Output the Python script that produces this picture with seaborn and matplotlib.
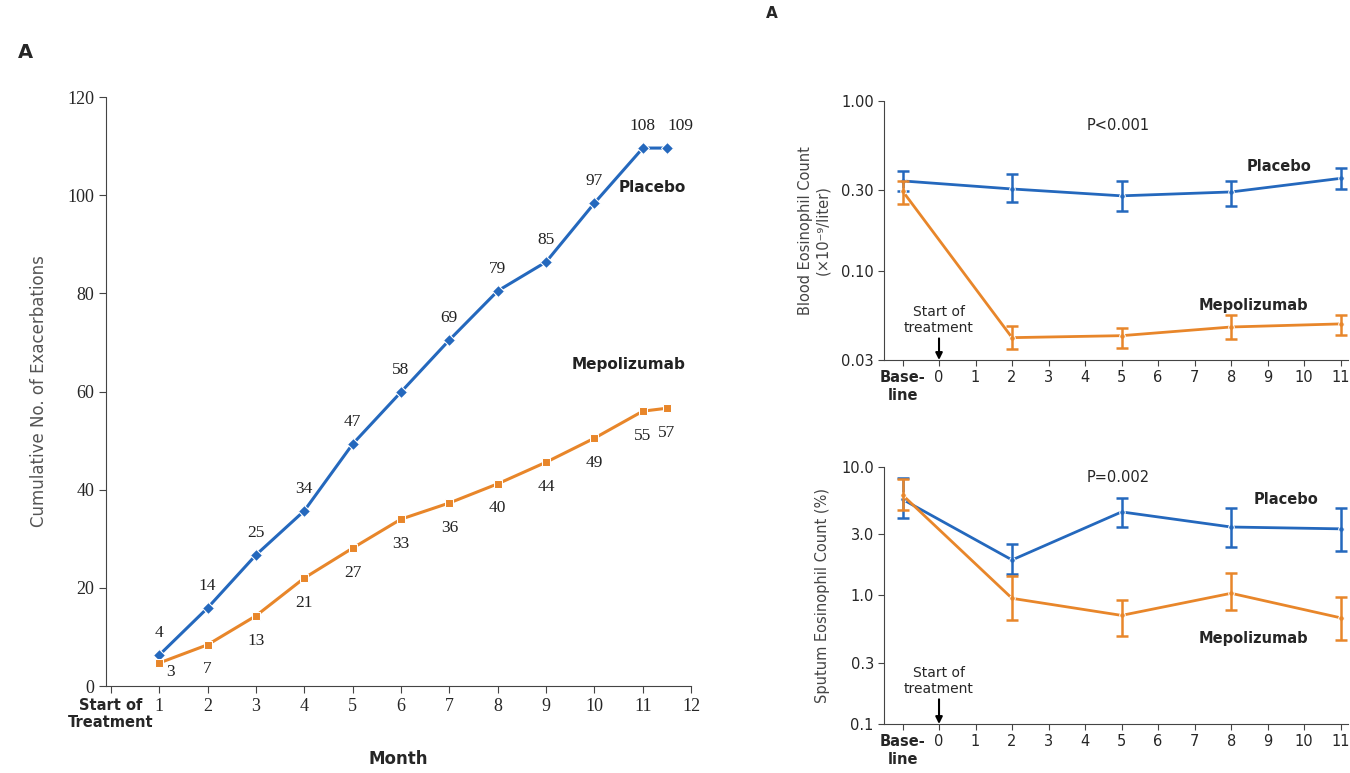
import pandas as pd
import matplotlib.pyplot as plt
import seaborn as sns

# -----------------------------
# Data
# -----------------------------
months = [1, 2, 3, 4, 5, 6, 7, 8, 9, 10, 11, 11.5]
placebo_counts = [4, 14, 25, 34, 47, 58, 69, 79, 85, 97, 108, 109]
placebo_pos = [6.3, 15.9, 26.7, 35.7, 49.3, 59.9, 70.5, 80.5, 86.4, 98.4, 109.6, 109.6]
mepo_counts = [3, 7, 13, 21, 27, 33, 36, 40, 44, 49, 55, 57]
mepo_pos = [4.7, 8.4, 14.3, 22.0, 28.1, 34.0, 37.3, 41.2, 45.6, 50.5, 56.0, 56.6]

visits = [-1, 2, 5, 8, 11]

blood_placebo = [0.339, 0.304, 0.277, 0.292, 0.351]
blood_placebo_hi = [0.388, 0.372, 0.339, 0.339, 0.404]
blood_placebo_lo = [0.296, 0.255, 0.225, 0.242, 0.304]
blood_mepo = [0.296, 0.0406, 0.0417, 0.0469, 0.0489]
blood_mepo_hi = [0.339, 0.0475, 0.0462, 0.0552, 0.0552]
blood_mepo_lo = [0.248, 0.0348, 0.0354, 0.0399, 0.0418]

sputum_placebo = [5.6, 1.89, 4.47, 3.41, 3.30]
sputum_placebo_hi = [8.2, 2.52, 5.74, 4.80, 4.80]
sputum_placebo_lo = [4.01, 1.47, 3.41, 2.38, 2.22]
sputum_mepo = [6.05, 0.95, 0.70, 1.04, 0.67]
sputum_mepo_hi = [8.07, 1.42, 0.92, 1.50, 0.97]
sputum_mepo_lo = [4.63, 0.644, 0.484, 0.771, 0.451]

right_ticks = list(range(-1, 12))
right_ticklabels = ["Base-\nline"] + [str(i) for i in range(0, 12)]

BLUE = "#2468bd"
ORANGE = "#e8862a"

sns.set_style("ticks")
plt.rcParams["font.family"] = ["DejaVu Sans"]

fig = plt.figure(figsize=(13.5, 7.73), dpi=100)

# -----------------------------
# Left panel: cumulative exacerbations
# -----------------------------
ax = fig.add_axes([0.0785, 0.1125, 0.4335, 0.762])

df = pd.DataFrame({
    "Month": months * 2,
    "Value": placebo_pos + mepo_pos,
    "Group": ["Placebo"] * len(months) + ["Mepolizumab"] * len(months),
})

sns.lineplot(
    data=df, x="Month", y="Value", hue="Group", style="Group",
    palette={"Placebo": BLUE, "Mepolizumab": ORANGE},
    markers={"Placebo": "D", "Mepolizumab": "s"}, dashes=False,
    markersize=6, linewidth=2.2, legend=False, ax=ax,
)

for i, (m, y, c) in enumerate(zip(months, placebo_pos, placebo_counts)):
    dx, dy = 0, 10
    if i == len(months) - 1:
        dx = 10
    ax.annotate(str(c), (m, y), xytext=(dx, dy), textcoords="offset points",
                ha="center", va="bottom", fontsize=12.5,
                family="Liberation Serif", color="#222222")

for i, (m, y, c) in enumerate(zip(months, mepo_pos, mepo_counts)):
    dx, dy = 0, -12
    if i == 0:
        dx, dy = 8, -1
    ax.annotate(str(c), (m, y), xytext=(dx, dy), textcoords="offset points",
                ha="center", va="top", fontsize=12.5,
                family="Liberation Serif", color="#222222")

ax.text(11.2, 101.5, "Placebo", fontsize=11, fontweight="bold",
        ha="center", va="center", color="#222222")
ax.text(10.7, 65.5, "Mepolizumab", fontsize=11, fontweight="bold",
        ha="center", va="center", color="#222222")

ax.set_xlim(-0.1, 12)
ax.set_ylim(0, 120)
ax.set_xticks(range(0, 13))
ax.set_xticklabels(["Start of\nTreatment"] + [str(i) for i in range(1, 13)])
ax.set_yticks(range(0, 121, 20))
for lab in ax.get_xticklabels() + ax.get_yticklabels():
    lab.set_family("Liberation Serif")
    lab.set_fontsize(13)
ax.get_xticklabels()[0].set_family("DejaVu Sans")
ax.get_xticklabels()[0].set_fontsize(10.5)
ax.get_xticklabels()[0].set_fontweight("bold")
ax.set_xlabel("Month", fontsize=12, fontweight="bold", labelpad=14)
ax.set_ylabel("Cumulative No. of Exacerbations", fontsize=12,
              color="#555555", labelpad=14)
sns.despine(ax=ax)
for sp in ["left", "bottom"]:
    ax.spines[sp].set_linestyle((0, (2, 1)))
    ax.spines[sp].set_color("#444444")
ax.tick_params(length=5, color="#444444")

fig.text(0.013, 0.925, "A", fontsize=14, fontweight="bold")
fig.text(0.567, 0.977, "A", fontsize=11, fontweight="bold")


# -----------------------------
# Right panels
# -----------------------------
def draw_panel(axr, pl, pl_lo, pl_hi, me, me_lo, me_hi):
    for vals, lo, hi, col in [(pl, pl_lo, pl_hi, BLUE), (me, me_lo, me_hi, ORANGE)]:
        sns.lineplot(x=visits, y=vals, color=col, marker="o", markersize=4,
                     linewidth=2, ax=axr)
        yerr = [[v - l for v, l in zip(vals, lo)], [h - v for v, h in zip(vals, hi)]]
        axr.errorbar(visits, vals, yerr=yerr, fmt="none", ecolor=col,
                     elinewidth=1.8, capsize=4, capthick=1.8)
    axr.set_yscale("log")
    axr.set_xlim(-1.5, 11.2)
    axr.set_xticks(right_ticks)
    axr.set_xticklabels(right_ticklabels, fontsize=10.5)
    axr.get_xticklabels()[0].set_fontweight("bold")
    axr.minorticks_off()
    sns.despine(ax=axr)
    for sp in ["left", "bottom"]:
        axr.spines[sp].set_linestyle((0, (2, 1)))
        axr.spines[sp].set_color("#444444")
    axr.tick_params(length=4, color="#444444", labelsize=10.5)


ax1 = fig.add_axes([0.655, 0.5343, 0.3435, 0.335])
draw_panel(ax1, blood_placebo, blood_placebo_lo, blood_placebo_hi,
           blood_mepo, blood_mepo_lo, blood_mepo_hi)
ax1.set_ylim(0.03, 1.0)
ax1.set_yticks([0.03, 0.1, 0.3, 1.0])
ax1.set_yticklabels(["0.03", "0.10", "0.30", "1.00"])
ax1.set_ylabel("Blood Eosinophil Count\n(\u00d710\u207b\u2079/liter)",
               fontsize=10.5, color="#444444", labelpad=8)
ax1.text(4.9, 0.72, "P<0.001", fontsize=10.5, ha="center", va="center")
ax1.text(9.3, 0.41, "Placebo", fontsize=10.5, fontweight="bold",
         ha="center", va="center")
ax1.text(8.6, 0.063, "Mepolizumab", fontsize=10.5, fontweight="bold",
         ha="center", va="center")
ax1.annotate("Start of\ntreatment", xy=(0, 0.03), xytext=(0, 0.042),
             ha="center", va="bottom", fontsize=10,
             arrowprops=dict(arrowstyle="-|>", color="black", lw=1.5,
                             shrinkA=0, shrinkB=0))

ax2 = fig.add_axes([0.655, 0.0634, 0.3435, 0.3325])
draw_panel(ax2, sputum_placebo, sputum_placebo_lo, sputum_placebo_hi,
           sputum_mepo, sputum_mepo_lo, sputum_mepo_hi)
ax2.set_ylim(0.1, 10.0)
ax2.set_yticks([0.1, 0.3, 1.0, 3.0, 10.0])
ax2.set_yticklabels(["0.1", "0.3", "1.0", "3.0", "10.0"])
ax2.set_ylabel("Sputum Eosinophil Count (%)", fontsize=10.5,
               color="#444444", labelpad=8)
ax2.text(4.9, 8.3, "P=0.002", fontsize=10.5, ha="center", va="center")
ax2.text(9.5, 5.6, "Placebo", fontsize=10.5, fontweight="bold",
         ha="center", va="center")
ax2.text(8.6, 0.46, "Mepolizumab", fontsize=10.5, fontweight="bold",
         ha="center", va="center")
ax2.annotate("Start of\ntreatment", xy=(0, 0.1), xytext=(0, 0.165),
             ha="center", va="bottom", fontsize=10,
             arrowprops=dict(arrowstyle="-|>", color="black", lw=1.5,
                             shrinkA=0, shrinkB=0))

fig.savefig("out.png", dpi=100)
plt.close(fig)
